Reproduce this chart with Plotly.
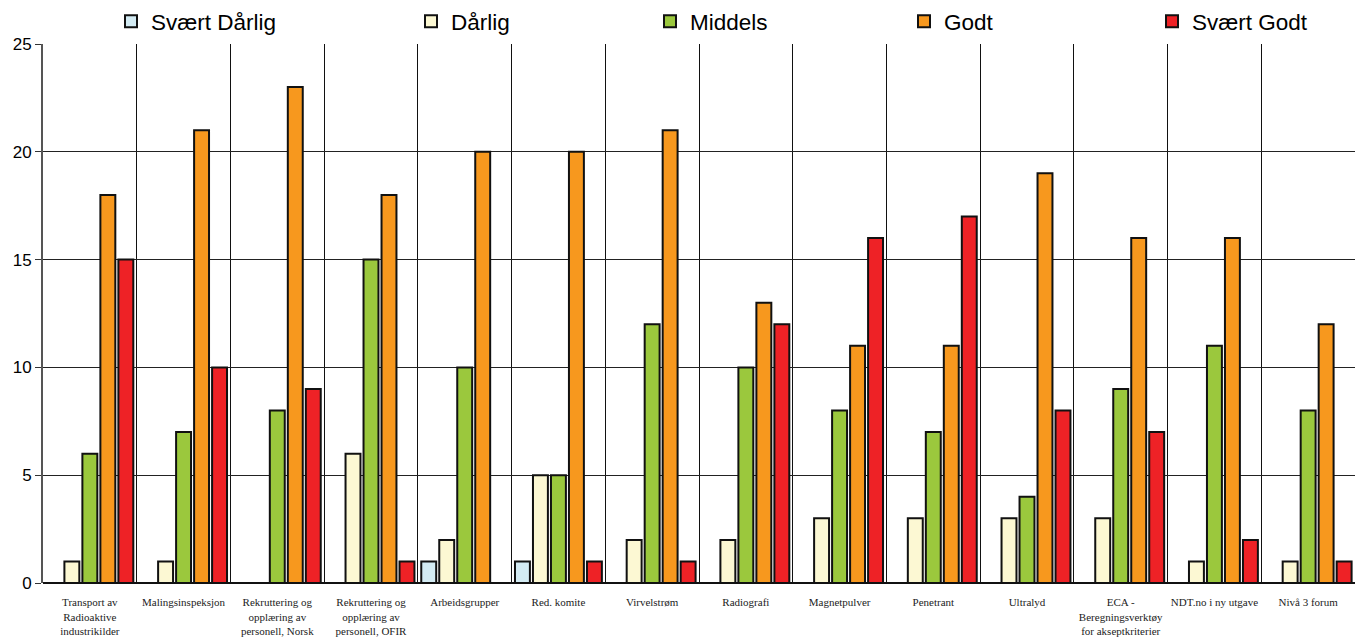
import plotly.graph_objects as go

categories = [
    "Transport av<br>Radioaktive<br>industrikilder",
    "Malingsinspeksjon",
    "Rekruttering og<br>opplæring av<br>personell, Norsk",
    "Rekruttering og<br>opplæring av<br>personell, OFIR",
    "Arbeidsgrupper",
    "Red. komite",
    "Virvelstrøm",
    "Radiografi",
    "Magnetpulver",
    "Penetrant",
    "Ultralyd",
    "ECA -<br>Beregningsverktøy<br>for akseptkriterier",
    "NDT.no i ny utgave",
    "Nivå 3 forum",
]

svaert_darlig = [0, 0, 0, 0, 1, 1, 0, 0, 0, 0, 0, 0, 0, 0]
darlig = [1, 1, 0, 6, 2, 5, 2, 2, 3, 3, 3, 3, 1, 1]
middels = [6, 7, 8, 15, 10, 5, 12, 10, 8, 7, 4, 9, 11, 8]
godt = [18, 21, 23, 18, 20, 20, 21, 13, 11, 11, 19, 16, 16, 12]
svaert_godt = [15, 10, 9, 1, 0, 1, 1, 12, 16, 17, 8, 7, 2, 1]

series = [
    ("Svært Dårlig", svaert_darlig, "#D3EBF3"),
    ("Dårlig", darlig, "#FCF8D3"),
    ("Middels", middels, "#9BC83D"),
    ("Godt", godt, "#F7981E"),
    ("Svært Godt", svaert_godt, "#EE2226"),
]

# each series gets its own legend box so the entries can be spaced freely
legend_x = [111, 411, 650, 904, 1152]
W, H = 1362, 638

x = list(range(len(categories)))

fig = go.Figure()
legend_layouts = {}
for i, (name, vals, color) in enumerate(series):
    key = "legend" if i == 0 else f"legend{i + 1}"
    fig.add_trace(go.Bar(
        x=x, y=vals, name=name, legend=key, showlegend=True,
        marker=dict(color=color, line=dict(color="#111", width=2)),
    ))
    legend_layouts[key] = dict(
        orientation="h", xref="container", yref="container",
        x=legend_x[i] / W, y=1.0, xanchor="left", yanchor="top",
        font=dict(size=22.5, family="Liberation Sans, Arial, sans-serif"),
        itemwidth=30, bgcolor="rgba(0,0,0,0)",
    )

fig.update_layout(
    width=W, height=H, showlegend=True,
    margin=dict(l=43, r=7, t=44, b=55, autoexpand=False),
    paper_bgcolor="white", plot_bgcolor="white",
    barmode="group", bargap=0.04, bargroupgap=0.17,
    font=dict(family="Liberation Sans, Arial, sans-serif", color="black"),
    xaxis=dict(
        range=[-0.5, len(categories) - 0.5],
        tickmode="array", tickvals=x, ticktext=categories,
        tickangle=0, showgrid=False, zeroline=False,
        showline=False, ticks="outside", ticklen=9,
        tickcolor="rgba(0,0,0,0)",
        tickfont=dict(family="Liberation Serif, Times New Roman, serif", size=11, color="#222"),
        minor=dict(
            tickmode="array",
            tickvals=[i + 0.5 for i in range(len(categories) - 1)],
            showgrid=True, gridcolor="#111", gridwidth=1,
        ),
    ),
    yaxis=dict(
        range=[0, 25], dtick=5, showgrid=True, gridcolor="#222", gridwidth=1,
        zeroline=True, zerolinecolor="#111", zerolinewidth=1.5,
        showline=True, linecolor="#555", linewidth=2,
        ticks="outside", ticklen=6, tickcolor="#333", tickwidth=1,
        tickfont=dict(size=17, family="Liberation Sans, Arial, sans-serif"),
    ),
    **legend_layouts,
)

fig.write_html("out.html")
